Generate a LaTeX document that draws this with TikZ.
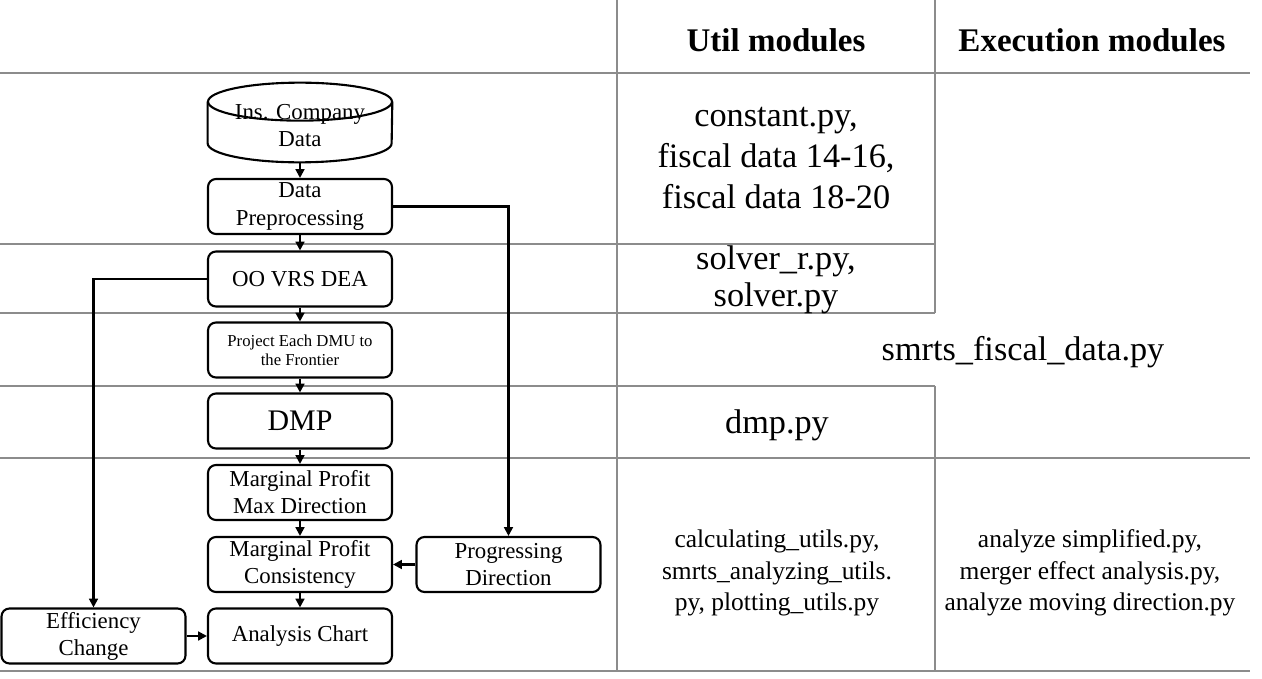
\documentclass[tikz,border=0pt]{standalone}
\usepackage{fontspec}
\setmainfont{Liberation Serif}
\usepackage{tikz}
\usetikzlibrary{arrows.meta, positioning}

\tikzset{
    gridline/.style={line width=1.1pt, draw=black!45},
    box/.style={draw, line width=1.2pt, rounded corners=4.5pt, minimum width=3.68cm,
        minimum height=1.1cm, inner sep=0pt, align=center, font=\fontsize{13}{15.4}\selectfont},
    arr/.style={-{Triangle[length=5pt,width=5pt]}, line width=1.2pt},
    hdr/.style={font=\fontsize{18.8}{22}\selectfont\bfseries},
    big/.style={align=center, font=\fontsize{19.5}{23.5}\selectfont},
    small/.style={align=center, font=\fontsize{14.5}{18}\selectfont}
}

\begin{document}
\begin{tikzpicture}[x=0.02cm, y=-0.02cm]
            \useasboundingbox (0,0) rectangle (1262,679);
            \draw[gridline] (0,73) -- (1250,73);
            \draw[gridline] (0,244) -- (935,244);
            \draw[gridline] (0,313) -- (935,313);
            \draw[gridline] (0,386) -- (935,386);
            \draw[gridline] (0,458) -- (1250,458);
            \draw[gridline] (0,671) -- (1250,671);
            \draw[gridline] (617,0) -- (617,671);
            \draw[gridline] (935,0) -- (935,313);
            \draw[gridline] (935,386) -- (935,671);
            \node[hdr](hutil) at (776,40) {Util modules};
            \node[hdr](hexec) at (1092,40) {Execution modules};
            \node[big](mconst) at (776,158) {constant.py,\\fiscal data 14-16,\\fiscal data 18-20};
            \node[big, font=\fontsize{19.5}{21}\selectfont](msolver) at (776,280) {solver\_r.py,\\solver.py};
            \node[big](mfiscal) at (1023,352) {smrts\_fiscal\_data.py};
            \node[big](mdmp) at (777,425) {dmp.py};
            \node[small](mutil) at (777,573) {calculating\_utils.py,\\smrts\_analyzing\_utils.\\py, plotting\_utils.py};
            \node[small](mexec) at (1090,573) {analyze simplified.py,\\merger effect analysis.py,\\analyze moving direction.py};
            \node[minimum width=3.68cm, minimum height=1.46cm, inner sep=0pt, align=center,
                font=\fontsize{13}{15.4}\selectfont](data) at (300,125.5) {Ins. Company\\Data};
            \draw[line width=1.2pt] ([yshift=-0.26cm]data.north west) -- ([yshift=0.38cm]data.south west)
                arc[start angle=180, end angle=360, x radius=1.84cm, y radius=0.38cm]
                -- ([yshift=-0.26cm]data.north east);
            \draw[line width=1.2pt] ([yshift=-0.26cm]data.north) ellipse [x radius=1.84cm, y radius=0.38cm];
            \node[box](prep) at (300,206.5) {Data\\Preprocessing};
            \node[box](dea) at (300,279) {OO VRS DEA};
            \node[box, font=\fontsize{9.5}{10.8}\selectfont](proj) at (300,350) {Project Each DMU to\\the Frontier};
            \node[box, font=\fontsize{17}{20}\selectfont](dmp) at (300,421) {DMP};
            \node[box](maxdir) at (300,492.5) {Marginal Profit\\Max Direction};
            \node[box](cons) at (300,564.5) {Marginal Profit\\Consistency};
            \node[box](chart) at (300,636) {Analysis Chart};
            \node[box](prog) at (508.5,564.5) {Progressing\\Direction};
            \node[box](eff) at (93.5,636) {Efficiency\\Change};
            \draw[arr] (data) -- (prep);
            \draw[arr] (prep) -- (dea);
            \draw[arr] (dea) -- (proj);
            \draw[arr] (proj) -- (dmp);
            \draw[arr] (dmp) -- (maxdir);
            \draw[arr] (maxdir) -- (cons);
            \draw[arr] (cons) -- (chart);
            \draw[arr] (eff) -- (chart);
            \draw[arr] (prog) -- (cons);
            \draw[arr] (prep) -| (prog);
            \draw[arr] (dea) -| (eff);
        \end{tikzpicture}
\end{document}
